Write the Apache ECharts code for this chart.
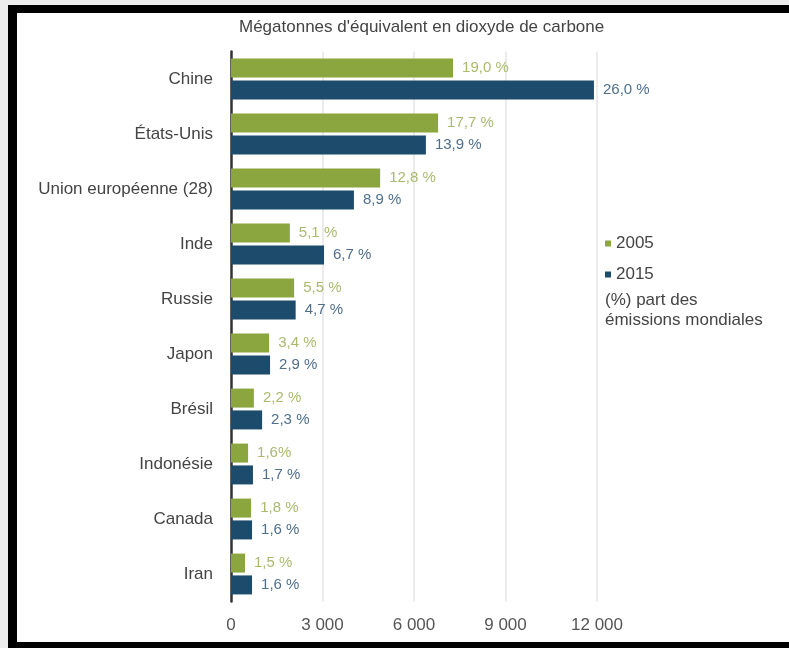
<!DOCTYPE html>
<html>
<head>
<meta charset="utf-8">
<script src="https://cdn.jsdelivr.net/npm/echarts@6/dist/echarts.min.js"></script>
<style>
html,body{margin:0;padding:0;background:#fff;}
#chart{width:789px;height:648px;}
</style>
</head>
<body>
<div id="chart"></div>
<script>
const categories = ["Chine","États-Unis","Union européenne (28)","Inde","Russie","Japon","Brésil","Indonésie","Canada","Iran"];
const values2005 = [7280, 6790, 4890, 1930, 2070, 1250, 750, 560, 660, 460];
const values2015 = [11900, 6390, 4030, 3050, 2120, 1280, 1020, 720, 690, 690];
const share2005 = ["19,0 %","17,7 %","12,8 %","5,1 %","5,5 %","3,4 %","2,2 %","1,6%","1,8 %","1,5 %"];
const share2015 = ["26,0 %","13,9 %","8,9 %","6,7 %","4,7 %","2,9 %","2,3 %","1,7 %","1,6 %","1,6 %"];
const xTicks = [0, 3000, 6000, 9000, 12000];

const FONT = '"Liberation Sans", Arial, sans-serif';
const chart = echarts.init(document.getElementById('chart'));
chart.setOption({
  backgroundColor: '#ffffff',
  animation: false,
  title: {
    text: "Mégatonnes d'équivalent en dioxyde de carbone",
    left: 234, top: 14,
    textStyle: {fontFamily: FONT, fontSize: 17, fontWeight: 'normal', color: '#444'}
  },
  legend: {
    data: ['2005', '2015'],
    orient: 'vertical',
    left: 605, top: 235, padding: 0,
    itemWidth: 6, itemHeight: 6, itemGap: 14,
    icon: 'rect',
    textStyle: {fontFamily: FONT, fontSize: 17, color: '#444', lineHeight: 17}
  },
  graphic: [
    {type: 'text', left: 605, top: 290,
     style: {text: '(%) part des\némissions mondiales', fontFamily: FONT, fontSize: 17, lineHeight: 20, fill: '#444'}},
    {type: 'rect', shape: {x: 0, y: 0, width: 789, height: 5}, style: {fill: '#ededed'}, silent: true},
    {type: 'rect', shape: {x: 0, y: 0, width: 8, height: 648}, style: {fill: '#ededed'}, silent: true},
    {type: 'rect', shape: {x: 8, y: 5, width: 781, height: 8}, style: {fill: '#000'}, silent: true},
    {type: 'rect', shape: {x: 8, y: 5, width: 9, height: 643}, style: {fill: '#000'}, silent: true},
    {type: 'rect', shape: {x: 8, y: 642, width: 781, height: 6}, style: {fill: '#000'}, silent: true}
  ],
  grid: {left: 231, right: 192, top: 51.5, bottom: 46.5, containLabel: false},
  xAxis: {
    type: 'value', min: 0, max: 12000, interval: 3000,
    axisLine: {show: false}, axisTick: {show: false},
    splitLine: {show: true, lineStyle: {color: '#e4e4e4', width: 1.5}},
    axisLabel: {
      fontFamily: FONT, fontSize: 17, color: '#555', margin: 15,
      formatter: function (v) { return xTicks.indexOf(v) >= 0 ? v.toLocaleString('fr-FR').replace(/\s/g, ' ') : ''; }
    }
  },
  yAxis: {
    type: 'category', data: categories, inverse: true,
    axisLine: {show: true, lineStyle: {color: '#333', width: 2.5}},
    axisTick: {show: false},
    axisLabel: {fontFamily: FONT, fontSize: 17, color: '#444', margin: 18}
  },
  series: [
    {
      name: '2005', type: 'bar', data: values2005,
      barWidth: 19, barGap: '15%',
      itemStyle: {color: '#8ba63f'},
      label: {show: true, position: 'right', distance: 9,
        fontFamily: FONT, fontSize: 15, color: '#a9b96e',
        formatter: function (p) { return share2005[p.dataIndex]; }}
    },
    {
      name: '2015', type: 'bar', data: values2015,
      barWidth: 19,
      itemStyle: {color: '#1d4b6c'},
      label: {show: true, position: 'right', distance: 9,
        fontFamily: FONT, fontSize: 15, color: '#4f6f8c',
        formatter: function (p) { return share2015[p.dataIndex]; }}
    }
  ]
});
</script>
</body>
</html>
